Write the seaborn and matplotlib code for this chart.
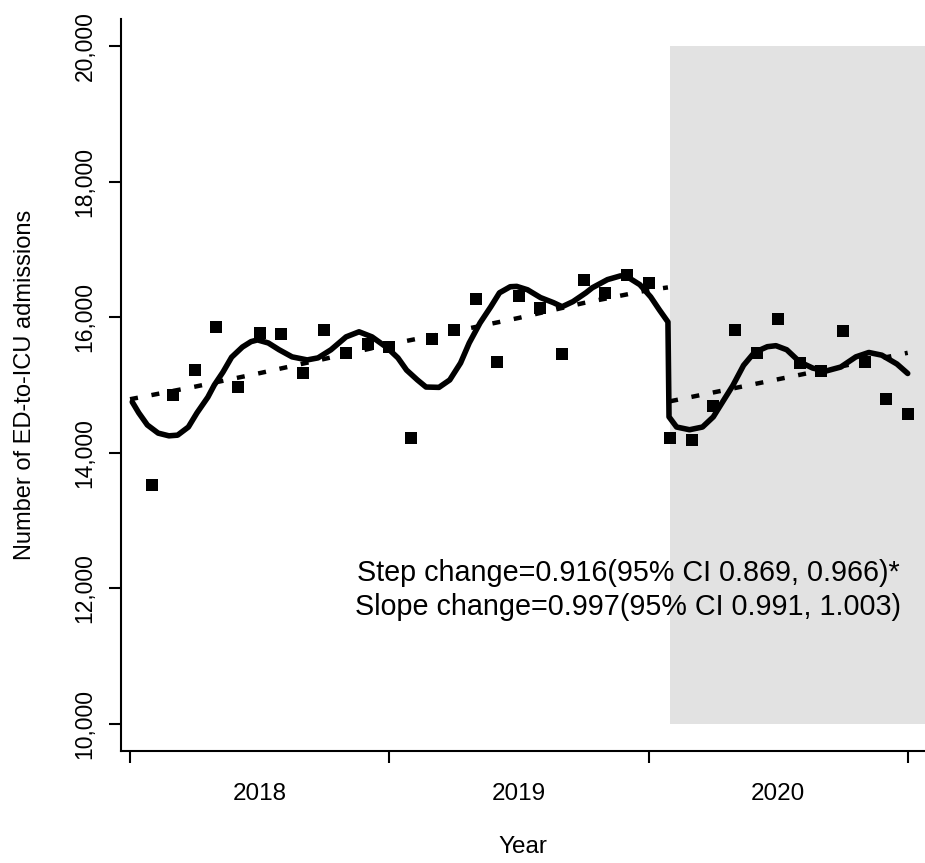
import matplotlib
matplotlib.use("Agg")
import matplotlib.pyplot as plt
import seaborn as sns
from matplotlib.patches import Rectangle
from matplotlib.ticker import FuncFormatter

# monthly ED-to-ICU admissions, Jan 2018 .. Dec 2020
months = list(range(1, 37))
admissions = [13520, 14850, 15220, 15860, 14970, 15770, 15755, 15180, 15815, 15475, 15605, 15560,
              14215, 15680, 15815, 16270, 15340, 16315, 16140, 15460, 16555, 16360, 16625, 16510,
              14215, 14185, 14690, 15815, 15475, 15975, 15325, 15205, 15800, 15340, 14795, 14570]

# fitted model with seasonality (solid), before / after the interruption
fit_pre_t = [0.1, 0.4, 0.8, 1.3, 1.8, 2.2, 2.7, 3.1, 3.6, 3.9, 4.3, 4.7, 5.2, 5.6, 5.9, 6.4, 6.9,
             7.5, 8.2, 8.7, 9.3, 10.0, 10.6, 11.2, 11.9, 12.4, 12.8, 13.3, 13.7, 14.3, 14.8, 15.3,
             15.7, 16.2, 16.7, 17.1, 17.6, 17.9, 18.4, 19.0, 19.6, 20.0, 20.5, 21.1, 21.4, 22.1,
             22.7, 23.0, 23.6, 24.1, 24.5, 24.9]
fit_pre = [14750, 14590, 14410, 14290, 14250, 14260, 14380, 14590, 14820, 15000, 15190, 15410,
           15560, 15640, 15665, 15620, 15520, 15415, 15370, 15400, 15520, 15710, 15785, 15710,
           15550, 15400, 15220, 15075, 14970, 14965, 15075, 15325, 15620, 15915, 16155, 16360,
           16450, 16455, 16405, 16290, 16215, 16155, 16230, 16360, 16435, 16555, 16610, 16600,
           16480, 16300, 16110, 15930]
fit_post_t = [24.95, 25.3, 25.9, 26.5, 27.0, 27.4, 27.9, 28.4, 28.9, 29.5, 29.9, 30.4, 31.0,
              31.6, 32.2, 32.9, 33.6, 34.2, 34.8, 35.5, 36.0]
fit_post = [14530, 14380, 14340, 14380, 14530, 14735, 14990, 15290, 15480, 15565, 15580, 15520,
            15340, 15250, 15205, 15265, 15415, 15480, 15440, 15310, 15170]

# deseasonalised trend (dashed)
trend_pre_t = [0, 3, 6, 9, 12, 15, 18, 21, 24, 24.9]
trend_pre = [14790, 14975, 15175, 15385, 15600, 15790, 15990, 16210, 16400, 16440]
trend_post_t = [25, 28, 31, 34, 36]
trend_post = [14760, 14955, 15150, 15345, 15475]

intervention = 25
year_ticks = [0, 12, 24, 36]
year_mid = [6, 18, 30]
year_labels = ["2018", "2019", "2020"]
y_ticks = [10000, 12000, 14000, 16000, 18000, 20000]

sns.set_style("ticks")
plt.rcParams["font.family"] = ["Liberation Sans", "DejaVu Sans"]
plt.rcParams["text.color"] = "black"
plt.rcParams["axes.labelcolor"] = "black"
plt.rcParams["xtick.color"] = "black"
plt.rcParams["ytick.color"] = "black"

fig = plt.figure(figsize=(9.25, 8.63), dpi=100)
ax = fig.add_axes([121 / 925, 1 - 751 / 863, 1 - 121 / 925, (751 - 19) / 863])

# shaded post-interruption period
ax.add_patch(Rectangle((intervention, 10000), 20, 10000, facecolor="#e2e2e2",
                       edgecolor="none", zorder=0))

sns.lineplot(x=fit_pre_t + fit_post_t, y=fit_pre + fit_post, ax=ax, color="black",
             lw=4.0, estimator=None, sort=False, solid_capstyle="round",
             solid_joinstyle="round", zorder=2)
for tt, vv in [(trend_pre_t, trend_pre), (trend_post_t, trend_post)]:
    sns.lineplot(x=tt, y=vv, ax=ax, color="black", lw=3.2, estimator=None,
                 linestyle=(0, (1.8, 3.1)), zorder=2)

sns.scatterplot(x=months, y=admissions, ax=ax, marker="s", s=70, color="black",
                linewidth=0, zorder=3)

ax.text(23.05, 12220, "Step change=0.916(95% CI 0.869, 0.966)*", ha="center",
        va="center", fontsize=20.7)
ax.text(23.05, 11720, "Slope change=0.997(95% CI 0.991, 1.003)", ha="center",
        va="center", fontsize=20.7)

ax.set_xlim(-0.42, 36.8)
ax.set_ylim(9600, 20400)

ax.set_xticks(year_ticks)
ax.set_xticklabels([])
ax.set_xticks(year_mid, minor=True)
ax.set_xticklabels(year_labels, minor=True)
ax.set_yticks(y_ticks)
ax.yaxis.set_major_formatter(FuncFormatter(lambda v, p: f"{int(v):,}"))
for lab in ax.get_yticklabels():
    lab.set_rotation(90)
    lab.set_va("center")

ax.tick_params(axis="both", which="major", length=8.6, width=1.5, color="black",
               labelsize=16.5, pad=9)
ax.tick_params(axis="x", which="minor", length=0, labelsize=17.5, pad=23)

for side in ["top", "right"]:
    ax.spines[side].set_visible(False)
for side in ["left", "bottom"]:
    ax.spines[side].set_linewidth(1.5)
    ax.spines[side].set_color("black")

ax.set_xlabel("Year", fontsize=17.5)
ax.set_ylabel("Number of ED-to-ICU admissions", fontsize=17)
ax.xaxis.set_label_coords(0.5, -0.116)
ax.yaxis.set_label_coords(-0.106, 0.5)

fig.savefig("out.png", dpi=100)
